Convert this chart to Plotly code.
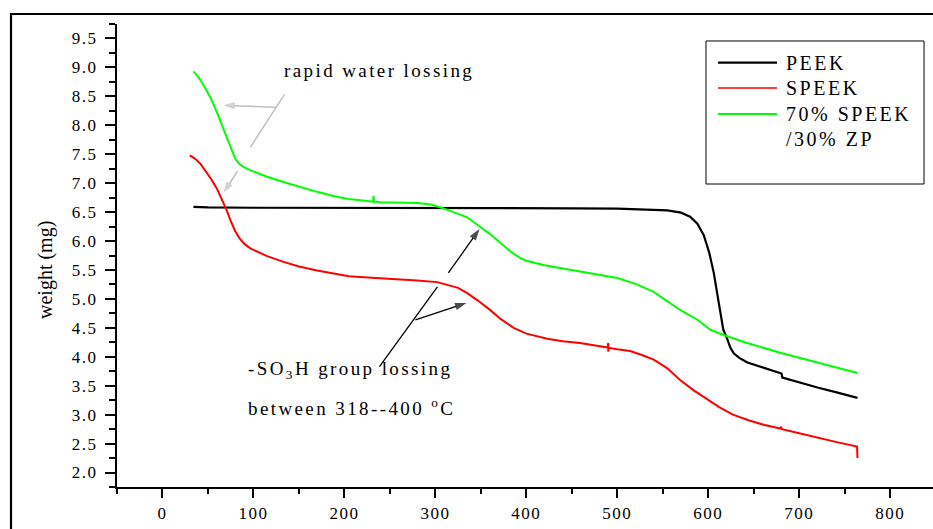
import plotly.graph_objects as go

# ---------------- data ----------------
peek_x = [34, 50, 100, 150, 200, 250, 300, 350, 400, 450, 500, 530, 555, 570, 580, 588, 595, 601, 606,
          611, 616.5, 621, 624.2, 628, 634, 643, 655, 665, 679, 680.5, 681.5, 690, 701, 720, 740, 764]
peek_y = [6.59, 6.58, 6.575, 6.575, 6.57, 6.57, 6.57, 6.57, 6.57, 6.565, 6.56, 6.55, 6.53, 6.49, 6.42, 6.3,
          6.1, 5.8, 5.45, 4.98, 4.47, 4.3, 4.16, 4.06, 3.98, 3.9, 3.84, 3.8, 3.72, 3.71, 3.64, 3.6, 3.55,
          3.47, 3.39, 3.29]

speek_x = [30, 36, 42, 48, 54, 60, 66, 70, 75, 80, 85, 90, 97, 115, 133, 150, 170, 205, 230, 258, 280, 302,
           315, 325, 335, 346, 360, 372, 386, 400, 423, 440, 459, 475, 489.5, 490, 490, 490.5, 500, 514,
           527, 540, 555, 569, 584, 599, 612, 627, 645, 662, 679, 680, 681, 700, 720, 740, 763.5, 764]
speek_y = [7.48, 7.42, 7.33, 7.2, 7.06, 6.9, 6.70, 6.55, 6.35, 6.17, 6.04, 5.95, 5.87, 5.74, 5.64, 5.56,
           5.49, 5.39, 5.365, 5.345, 5.32, 5.29, 5.24, 5.19, 5.1, 4.98, 4.81, 4.65, 4.5, 4.4, 4.31, 4.27,
           4.24, 4.2, 4.16, 4.24, 4.09, 4.155, 4.13, 4.1, 4.03, 3.95, 3.8, 3.6, 3.42, 3.26, 3.13, 3.0, 2.9,
           2.82, 2.76, 2.79, 2.75, 2.68, 2.6, 2.53, 2.45, 2.25]

comp_x = [34, 40, 46, 53, 60, 66, 72, 76, 80, 84, 89, 97, 115, 133, 150, 170, 190, 207, 225, 231.5, 232,
          232.5, 240, 260, 280, 295, 306, 320, 335, 348, 360, 372, 385, 394, 400, 420, 450, 480, 500, 520,
          540, 553, 570, 588, 602, 616, 640, 679, 720, 764]
comp_y = [8.93, 8.82, 8.67, 8.47, 8.22, 7.97, 7.72, 7.55, 7.42, 7.34, 7.28, 7.22, 7.11, 7.02, 6.94, 6.85,
          6.77, 6.72, 6.69, 6.68, 6.78, 6.68, 6.67, 6.66, 6.655, 6.63, 6.58, 6.5, 6.41, 6.26, 6.12, 5.96,
          5.79, 5.7, 5.66, 5.58, 5.5, 5.42, 5.36, 5.26, 5.12, 4.98, 4.8, 4.64, 4.47, 4.38, 4.25, 4.07, 3.9,
          3.72]

series_names = ["PEEK", "SPEEK", "70% SPEEK", "/30% ZP"]
x_ticks = [0, 100, 200, 300, 400, 500, 600, 700, 800]
y_ticks = [2.0, 2.5, 3.0, 3.5, 4.0, 4.5, 5.0, 5.5, 6.0, 6.5, 7.0, 7.5, 8.0, 8.5, 9.0, 9.5]

# annotation arrows: (tail x, tail y, head x, head y)
gray_arrows = [(124.2, 8.31, 67.0, 8.345), (82.4, 7.207, 67.0, 6.828)]
black_arrows = [(314.3, 5.448, 348.4, 6.207), (278.0, 4.638, 334.1, 4.931)]

FONT = "Liberation Serif"


def sp(s, px):
    return f'<span style="letter-spacing:{px}px">{s}</span>'


fig = go.Figure()
fig.add_trace(go.Scatter(x=peek_x, y=peek_y, mode="lines", name="PEEK",
                         line=dict(color="black", width=2.2), showlegend=False))
fig.add_trace(go.Scatter(x=speek_x, y=speek_y, mode="lines", name="SPEEK",
                         line=dict(color="#ff0000", width=2), showlegend=False))
fig.add_trace(go.Scatter(x=comp_x, y=comp_y, mode="lines", name="70% SPEEK /30% ZP",
                         line=dict(color="#00ff00", width=2), showlegend=False))

for arr, col, w in [(gray_arrows, "#c0c0c0", 1.5), (black_arrows, "black", 1.3)]:
    for tx, ty, hx, hy in arr:
        fig.add_trace(go.Scatter(x=[tx, hx], y=[ty, hy], mode="lines+markers", showlegend=False,
                                 hoverinfo="skip", line=dict(color=col, width=w),
                                 marker=dict(symbol="arrow", size=[0, 12], angleref="previous",
                                             color=col, line=dict(width=0))))

shapes = []
# outer frame
shapes.append(dict(type="rect", xref="paper", yref="paper", x0=-0.1299, x1=1.1, y0=-0.3, y1=1.0216,
                   line=dict(color="black", width=2.2), fillcolor="rgba(0,0,0,0)"))
# legend box
shapes.append(dict(type="rect", xref="paper", yref="paper", x0=0.7218, x1=0.989, y0=0.6544, y1=0.9633,
                   line=dict(color="black", width=1), fillcolor="white"))
leg_rows = [0.9164, 0.8618, 0.8056]
leg_cols = ["black", "#ff0000", "#00ff00"]
for yy, cc, ww in zip(leg_rows, leg_cols, [2.2, 1.5, 2]):
    shapes.append(dict(type="line", xref="paper", yref="paper", x0=0.7365, x1=0.8088, y0=yy, y1=yy,
                       line=dict(color=cc, width=ww)))

# gray annotation line (no head)
shapes.append(dict(type="line", xref="x", yref="y", x0=134.1, y0=8.534, x1=96.7, y1=7.621,
                   line=dict(color="#c0c0c0", width=1.5)))
# black annotation line (no head)
shapes.append(dict(type="line", xref="x", yref="y", x0=238.5, y0=3.828, x1=302.2, y1=5.207,
                   line=dict(color="black", width=1.3)))

annotations = []
# legend text
for yy, txt in zip([0.9164, 0.8618, 0.8056, 0.7516], series_names):
    annotations.append(dict(xref="paper", yref="paper", x=0.8174, y=yy, xanchor="left", yanchor="middle",
                            text=sp(txt, 2.5), showarrow=False,
                            font=dict(family=FONT, size=20, color="black")))

# y axis title
annotations.append(dict(xref="paper", yref="paper", x=-0.087, y=0.4687, xanchor="center", yanchor="middle",
                        text="weight (mg)", textangle=-90, showarrow=False,
                        font=dict(family=FONT, size=20, color="black")))

# text annotations
annotations.append(dict(xref="x", yref="y", x=238.5, y=8.948, xanchor="center", yanchor="middle",
                        text=sp("rapid water lossing", 2.4), showarrow=False,
                        font=dict(family=FONT, size=19, color="black")))
annotations.append(dict(xref="x", yref="y", x=92.3, y=3.776, xanchor="left", yanchor="middle",
                        text=sp("-SO<sub>3</sub>H group lossing", 2.4), showarrow=False,
                        font=dict(family=FONT, size=19, color="black")))
annotations.append(dict(xref="x", yref="y", x=92.3, y=3.138, xanchor="left", yanchor="middle",
                        text=sp("between 318--400 <sup>o</sup>C", 2.4), showarrow=False,
                        font=dict(family=FONT, size=19, color="black")))

fig.update_layout(
    width=933, height=529,
    margin=dict(l=117, r=0, t=24, b=42),
    paper_bgcolor="white", plot_bgcolor="white",
    font=dict(family=FONT, color="black"),
    shapes=shapes, annotations=annotations,
    showlegend=False,
)
fig.update_xaxes(
    range=[-50, 847], showgrid=False, zeroline=False,
    showline=True, linecolor="black", linewidth=2.2,
    ticks="outside", ticklen=9, tickwidth=2, tickcolor="black",
    tickvals=x_ticks, ticktext=[sp(str(v), 1.5) for v in x_ticks],
    tickfont=dict(family=FONT, size=17, color="black"),
    minor=dict(tickvals=[v + 50 for v in x_ticks] + [-50], ticks="outside", ticklen=5, tickwidth=2,
               tickcolor="black"),
)
fig.update_yaxes(
    range=[1.75, 9.75], showgrid=False, zeroline=False,
    showline=True, linecolor="black", linewidth=2.2,
    ticks="outside", ticklen=10, tickwidth=2, tickcolor="black",
    tickvals=y_ticks, ticktext=[sp(f"{v:.1f}", 1.5) for v in y_ticks],
    tickfont=dict(family=FONT, size=17, color="black"),
    minor=dict(tickvals=[v + 0.25 for v in y_ticks] + [1.75], ticks="outside", ticklen=6, tickwidth=2,
               tickcolor="black"),
    ticklabelstandoff=4,
)

fig.write_html("out.html")
